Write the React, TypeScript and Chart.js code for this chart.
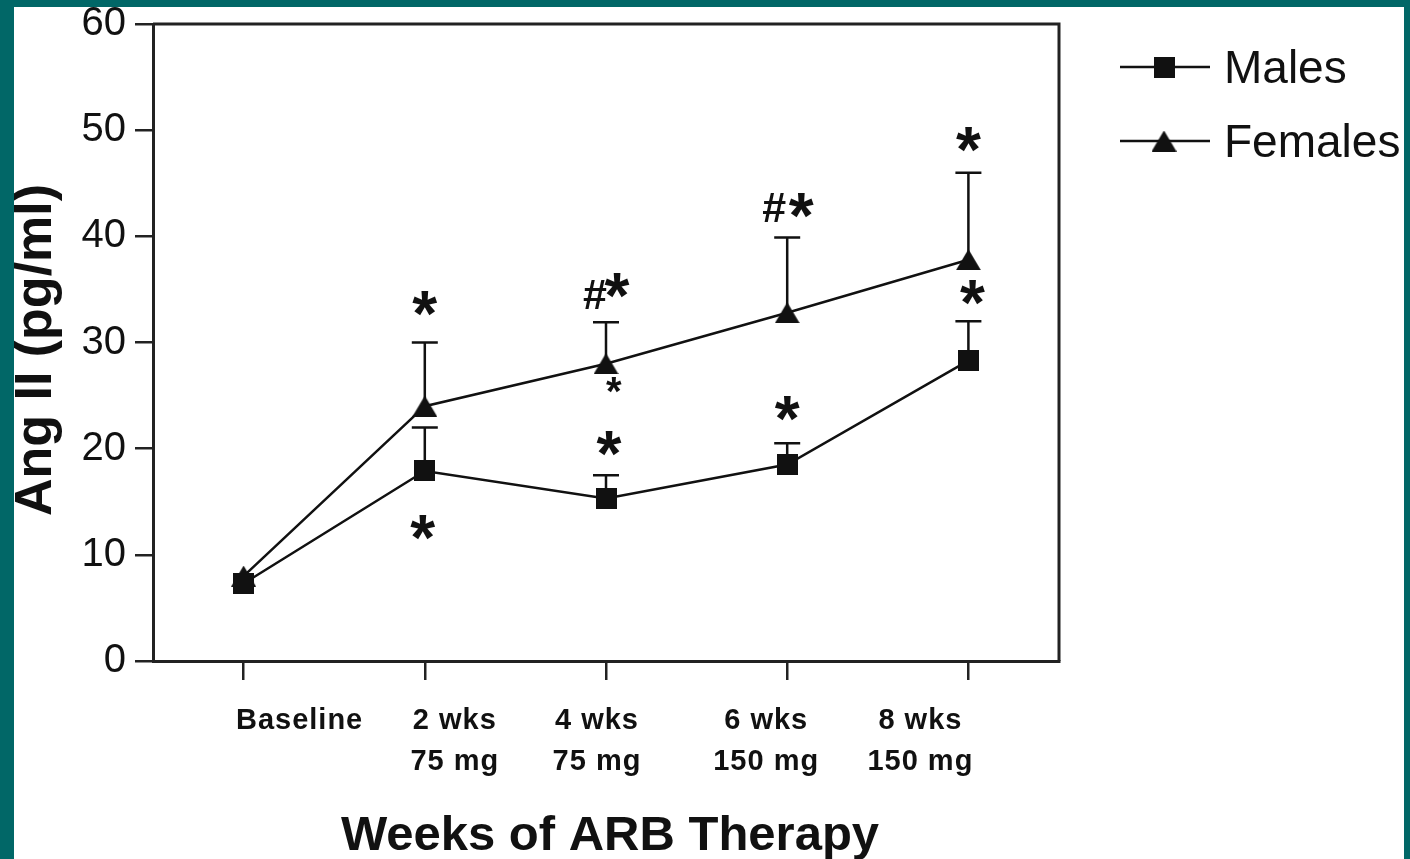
import React, { useEffect, useRef } from 'react';
import { Chart, registerables } from 'chart.js';

Chart.register(...registerables);

// ---- data ----
const categories = [['Baseline'], ['2 wks', '75 mg'], ['4 wks', '75 mg'], ['6 wks', '150 mg'], ['8 wks', '150 mg']];
const seriesNames = ['Males', 'Females'];
const malesMean = [7.3, 17.9, 15.3, 18.5, 28.3];
const malesSem = [null, 4.1, 2.2, 2.0, 3.7];
const femalesMean = [8.0, 24.0, 28.0, 32.8, 37.8];
const femalesSem = [null, 6.0, 3.9, 7.1, 8.2];
const yTicks = [0, 10, 20, 30, 40, 50, 60];

// significance marks: category index, value they sit at, symbol
const markIndex = [1, 1, 2, 2, 2, 2, 3, 3, 3, 4, 4];
const markValue = [33.7, 12.6, 34.5, 35.4, 26.0, 20.5, 42.7, 42.9, 23.8, 49.1, 34.7];
const markText = ['*', '*', '#', '*', '*', '*', '#', '*', '*', '*', '*'];

// ---- layout / style ----
const W = 1410;
const H = 859;
const INK = '#111111';
const TEAL = '#016767';
const FONT = '"Liberation Sans", Arial, Helvetica, sans-serif';
const markShift = [0, -2, -11, 11, 8, 3, -13, 14, 0, 0, 4];
const markKind = ['big', 'big', 'hash', 'big', 'small', 'big', 'hash', 'big', 'big', 'big', 'big'];
const labelShift = [56, 30, -9, -21, -48];

function makeSquare(side: number) {
  const c = document.createElement('canvas');
  c.width = side;
  c.height = side;
  const g = c.getContext('2d')!;
  g.fillStyle = INK;
  g.fillRect(0, 0, side, side);
  return c;
}

function makeTriangle(w: number, h: number) {
  const c = document.createElement('canvas');
  c.width = w;
  c.height = h;
  const g = c.getContext('2d')!;
  g.fillStyle = INK;
  g.beginPath();
  g.moveTo(w / 2, 0);
  g.lineTo(w, h);
  g.lineTo(0, h);
  g.closePath();
  g.fill();
  return c;
}

// draw text so that its ink box is centred on (cx, cy)
function drawCentered(ctx: CanvasRenderingContext2D, text: string, cx: number, cy: number) {
  const m = ctx.measureText(text);
  const x = cx - (m.actualBoundingBoxRight - m.actualBoundingBoxLeft) / 2;
  const y = cy + (m.actualBoundingBoxAscent - m.actualBoundingBoxDescent) / 2;
  ctx.textAlign = 'left';
  ctx.textBaseline = 'alphabetic';
  ctx.fillText(text, x, y);
}

export default function App() {
  const ref = useRef<HTMLCanvasElement>(null);

  useEffect(() => {
    const canvas = ref.current!;
    const square = makeSquare(21);
    const triangle = makeTriangle(25, 21);
    const semSeries = [malesSem, femalesSem];
    const markers = [square, triangle];

    const decorations = {
      id: 'decorations',
      beforeDraw(chart: any) {
        const ctx = chart.ctx;
        ctx.save();
        ctx.fillStyle = '#ffffff';
        ctx.fillRect(0, 0, W, H);
        ctx.restore();
      },
      beforeDatasetsDraw(chart: any) {
        const ctx = chart.ctx;
        const ys = chart.scales.y;
        const a = chart.chartArea;
        ctx.save();
        // top and right frame
        ctx.strokeStyle = '#222';
        ctx.lineWidth = 3;
        ctx.beginPath();
        ctx.moveTo(a.left, a.top);
        ctx.lineTo(a.right, a.top);
        ctx.lineTo(a.right, a.bottom);
        ctx.stroke();
        // upper error bars
        ctx.strokeStyle = INK;
        ctx.lineWidth = 2.5;
        semSeries.forEach((sem, di) => {
          const meta = chart.getDatasetMeta(di);
          const means = chart.data.datasets[di].data as number[];
          sem.forEach((e, i) => {
            if (e == null) return;
            const px = meta.data[i].x;
            const y0 = ys.getPixelForValue(means[i]);
            const y1 = ys.getPixelForValue(means[i] + e);
            ctx.beginPath();
            ctx.moveTo(px, y0);
            ctx.lineTo(px, y1);
            ctx.moveTo(px - 13, y1);
            ctx.lineTo(px + 13, y1);
            ctx.stroke();
          });
        });
        ctx.restore();
      },
      afterDatasetsDraw(chart: any) {
        const ctx = chart.ctx;
        const xs = chart.scales.x;
        const ys = chart.scales.y;
        ctx.save();
        ctx.fillStyle = INK;
        markIndex.forEach((ci, k) => {
          const kind = markKind[k];
          ctx.font = kind === 'small' ? `bold 40px ${FONT}` : kind === 'hash' ? `bold 43px ${FONT}` : `bold 64px ${FONT}`;
          const cx = xs.getPixelForValue(ci) + markShift[k];
          const cy = ys.getPixelForValue(markValue[k]);
          drawCentered(ctx, markText[k], cx, cy);
        });
        ctx.restore();
      },
      afterDraw(chart: any) {
        const ctx = chart.ctx;
        const xs = chart.scales.x;
        ctx.save();
        ctx.fillStyle = INK;

        // category labels
        ctx.font = `bold 29px ${FONT}`;
        (ctx as any).letterSpacing = '1px';
        ctx.textAlign = 'center';
        ctx.textBaseline = 'alphabetic';
        categories.forEach((lines, i) => {
          const cx = xs.getPixelForValue(i) + labelShift[i];
          lines.forEach((t, j) => ctx.fillText(t, cx, 729 + j * 41));
        });
        (ctx as any).letterSpacing = '0px';

        // axis titles
        ctx.font = `bold 49px ${FONT}`;
        ctx.fillText('Weeks of ARB Therapy', 610, 850);
        ctx.save();
        ctx.translate(51, 350);
        ctx.rotate(-Math.PI / 2);
        ctx.font = `bold 52px ${FONT}`;
        ctx.fillText('Ang II (pg/ml)', 0, 0);
        ctx.restore();

        // legend
        const legendY = [67, 141];
        ctx.font = `46px ${FONT}`;
        ctx.textAlign = 'left';
        seriesNames.forEach((name, i) => {
          const y = legendY[i];
          ctx.strokeStyle = INK;
          ctx.lineWidth = 2.5;
          ctx.beginPath();
          ctx.moveTo(1120, y);
          ctx.lineTo(1210, y);
          ctx.stroke();
          const img = markers[i];
          ctx.drawImage(img, 1164 - img.width / 2, y - img.height / 2);
          ctx.fillText(name, 1224, y + 16);
        });

        // teal frame
        ctx.fillStyle = TEAL;
        ctx.fillRect(0, 0, W, 7);
        ctx.fillRect(0, 0, 14, H);
        ctx.fillRect(1404, 0, W - 1404, H);
        ctx.restore();
      },
    };

    const chart = new Chart(canvas, {
      type: 'line',
      data: {
        labels: categories as any,
        datasets: [
          {
            label: seriesNames[0],
            data: malesMean,
            borderColor: INK,
            borderWidth: 2.5,
            pointStyle: square as any,
            pointRadius: 10,
            pointHoverRadius: 10,
            tension: 0,
          },
          {
            label: seriesNames[1],
            data: femalesMean,
            borderColor: INK,
            borderWidth: 2.5,
            pointStyle: triangle as any,
            pointRadius: 10,
            pointHoverRadius: 10,
            tension: 0,
          },
        ],
      },
      options: {
        responsive: false,
        animation: false,
        devicePixelRatio: 1,
        layout: { padding: { left: 0, top: 24, right: W - 1059, bottom: 0 } },
        plugins: {
          legend: { display: false },
          tooltip: { enabled: false },
        },
        scales: {
          x: {
            type: 'category',
            offset: true,
            ticks: { display: false },
            grid: {
              display: true,
              drawOnChartArea: false,
              drawTicks: true,
              tickLength: 19,
              color: '#222',
              lineWidth: 2.5,
              offset: false,
            },
            border: { display: true, color: '#222', width: 3 },
            afterFit: (s: any) => {
              s.height = H - 661;
            },
          },
          y: {
            type: 'linear',
            min: 0,
            max: 60,
            afterBuildTicks: (s: any) => {
              s.ticks = yTicks.map((v) => ({ value: v }));
            },
            ticks: {
              color: INK,
              padding: 9,
              font: { family: FONT, size: 40, lineHeight: 0.5 },
            },
            grid: {
              display: true,
              drawOnChartArea: false,
              drawTicks: true,
              tickLength: 18,
              color: '#222',
              lineWidth: 2.5,
            },
            border: { display: true, color: '#222', width: 3 },
            afterFit: (s: any) => {
              s.width = 153;
            },
          },
        },
      },
      plugins: [decorations],
    });

    return () => chart.destroy();
  }, []);

  return (
    <div style={{ position: 'absolute', left: 0, top: 0, width: W, height: H }}>
      <canvas ref={ref} width={W} height={H} style={{ display: 'block' }} />
    </div>
  );
}
